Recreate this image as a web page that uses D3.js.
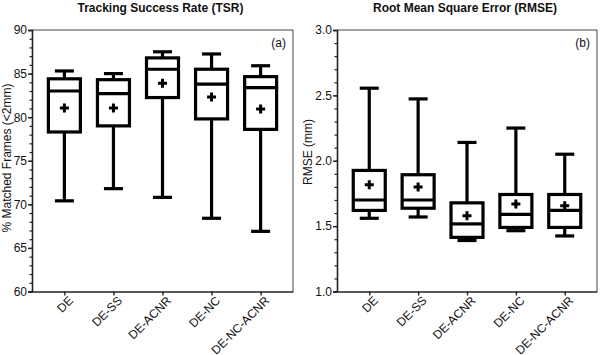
<!DOCTYPE html>
<html>
<head>
<meta charset="utf-8">
<script src="https://cdn.jsdelivr.net/npm/d3@7"></script>
<style>
  body { margin: 0; background: #fff; }
  text { font-family: "Liberation Sans", Arial, sans-serif; fill: #111; }
</style>
</head>
<body>
<svg id="chart" width="600" height="355"></svg>
<script>
const groups = ["DE", "DE-SS", "DE-ACNR", "DE-NC", "DE-NC-ACNR"];

// TSR (%) : whisker low, q1, median, q3, whisker high, mean
const tsrLow    = [70.4, 71.8, 70.8, 68.4, 66.9];
const tsrQ1     = [78.3, 79.0, 82.25, 79.8, 78.6];
const tsrMedian = [83.0, 82.7, 85.5, 83.8, 83.4];
const tsrQ3     = [84.4, 84.3, 86.8, 85.5, 84.65];
const tsrHigh   = [85.3, 85.0, 87.5, 87.25, 85.9];
const tsrMean   = [81.05, 81.05, 83.9, 82.3, 80.95];

// RMSE (mm)
const rmseLow    = [1.56, 1.57, 1.39, 1.465, 1.425];
const rmseQ1     = [1.62, 1.637, 1.414, 1.49, 1.49];
const rmseMedian = [1.70, 1.70, 1.517, 1.59, 1.62];
const rmseQ3     = [1.926, 1.893, 1.678, 1.742, 1.742];
const rmseHigh   = [2.555, 2.473, 2.14, 2.25, 2.05];
const rmseMean   = [1.816, 1.80, 1.58, 1.67, 1.655];

const tsrTicks = [60, 65, 70, 75, 80, 85, 90];
const rmseTicks = [1.0, 1.5, 2.0, 2.5, 3.0];

const svg = d3.select("#chart");

function toRows(low, q1, med, q3, high, mean) {
	return groups.map((g, i) => ({
		name: g, low: low[i], q1: q1[i], med: med[i], q3: q3[i], high: high[i], mean: mean[i]
	}));
}

/**
 * draws one box-plot panel
 */
function drawPanel(opt) {
	const left = opt.left, right = opt.right, top = 30, bottom = 291.5;
	const g = svg.append("g");

	const x = d3.scalePoint().domain(groups).range([left, right]).padding(0.66);
	const y = d3.scaleLinear().domain(opt.domain).range([bottom, top]);

	// frame (top + right)
	g.append("path")
		.attr("d", `M${left},${top}H${right}V${bottom}`)
		.attr("fill", "none")
		.attr("stroke", "#444")
		.attr("stroke-width", 1);

	// minor ticks
	const yAxisMinor = d3.axisLeft(y).tickValues(opt.minor).tickSize(2.5).tickFormat("");
	g.append("g").attr("transform", `translate(${left},0)`).call(yAxisMinor)
		.call(s => s.select(".domain").remove())
		.selectAll("line").attr("stroke", "#222").attr("stroke-width", 1.2);

	// y axis
	const yAxis = d3.axisLeft(y).tickValues(opt.ticks).tickSize(4).tickPadding(1).tickFormat(opt.fmt);
	const ya = g.append("g").attr("transform", `translate(${left},0)`).call(yAxis);
	ya.select(".domain").attr("stroke", "#222").attr("stroke-width", 1.6);
	ya.selectAll("line").attr("stroke", "#222").attr("stroke-width", 1.4);
	ya.selectAll("text").attr("font-size", 12).attr("fill", "#222")
		.attr("font-family", "Liberation Sans, Arial, sans-serif");

	// x axis
	const xAxis = d3.axisBottom(x).tickSize(4).tickSizeOuter(0);
	const xa = g.append("g").attr("transform", `translate(0,${bottom})`).call(xAxis);
	xa.select(".domain").attr("stroke", "#222").attr("stroke-width", 1.6);
	xa.selectAll("line").attr("stroke", "#222").attr("stroke-width", 1.4);
	xa.selectAll("text")
		.attr("font-size", 12).attr("fill", "#222")
		.attr("font-family", "Liberation Sans, Arial, sans-serif")
		.attr("text-anchor", "end")
		.attr("dy", "0.35em")
		.attr("transform", "translate(1,2) rotate(-45)");

	// title
	g.append("text")
		.attr("x", (left + right) / 2 - 2).attr("y", 12)
		.attr("text-anchor", "middle")
		.attr("font-size", 12).attr("font-weight", "bold")
		.text(opt.title);

	// panel letter
	g.append("text")
		.attr("x", right - 7).attr("y", 47)
		.attr("text-anchor", "end")
		.attr("font-size", 12)
		.text(opt.letter);

	// y label
	g.append("text")
		.attr("transform", `translate(${opt.labelX},${opt.labelY}) rotate(-90)`)
		.attr("text-anchor", "middle")
		.attr("font-size", 12)
		.text(opt.ylabel);

	const boxW = 32, capW = 19;
	const sw = 3.2;
	const boxes = g.selectAll(".box").data(opt.rows).enter().append("g").attr("class", "box");

	// whiskers
	boxes.append("line")
		.attr("x1", d => x(d.name)).attr("x2", d => x(d.name))
		.attr("y1", d => y(d.high)).attr("y2", d => y(d.q3))
		.attr("stroke", "#000").attr("stroke-width", sw);
	boxes.append("line")
		.attr("x1", d => x(d.name)).attr("x2", d => x(d.name))
		.attr("y1", d => y(d.q1)).attr("y2", d => y(d.low))
		.attr("stroke", "#000").attr("stroke-width", sw);
	// caps
	boxes.selectAll(".cap").data(d => [{n: d.name, v: d.high}, {n: d.name, v: d.low}])
		.enter().append("line")
		.attr("x1", d => x(d.n) - capW / 2).attr("x2", d => x(d.n) + capW / 2)
		.attr("y1", d => y(d.v)).attr("y2", d => y(d.v))
		.attr("stroke", "#000").attr("stroke-width", sw);
	// box
	boxes.append("rect")
		.attr("x", d => x(d.name) - boxW / 2)
		.attr("y", d => y(d.q3))
		.attr("width", boxW)
		.attr("height", d => y(d.q1) - y(d.q3))
		.attr("fill", "#fff")
		.attr("stroke", "#000").attr("stroke-width", sw);
	// median
	boxes.append("line")
		.attr("x1", d => x(d.name) - boxW / 2).attr("x2", d => x(d.name) + boxW / 2)
		.attr("y1", d => y(d.med)).attr("y2", d => y(d.med))
		.attr("stroke", "#000").attr("stroke-width", sw);
	// mean plus
	boxes.append("path")
		.attr("d", d => {
			const cx = x(d.name), cy = y(d.mean), r = 4.5;
			return `M${cx - r},${cy}H${cx + r}M${cx},${cy - r}V${cy + r}`;
		})
		.attr("stroke", "#000").attr("stroke-width", 3);
}

drawPanel({
	left: 32, right: 293,
	domain: [60, 90],
	ticks: tsrTicks,
	minor: d3.range(60, 91, 1),
	fmt: d3.format("d"),
	title: "Tracking Success Rate (TSR)",
	letter: "(a)",
	ylabel: "% Matched Frames (<2mm)",
	labelX: 10.5, labelY: 158,
	rows: toRows(tsrLow, tsrQ1, tsrMedian, tsrQ3, tsrHigh, tsrMean)
});

drawPanel({
	left: 337, right: 597,
	domain: [1.0, 3.0],
	ticks: rmseTicks,
	minor: d3.range(10, 31, 1).map(v => v / 10),
	fmt: d3.format(".1f"),
	title: "Root Mean Square Error (RMSE)",
	letter: "(b)",
	ylabel: "RMSE (mm)",
	labelX: 312, labelY: 152,
	rows: toRows(rmseLow, rmseQ1, rmseMedian, rmseQ3, rmseHigh, rmseMean)
});
</script>
</body>
</html>
